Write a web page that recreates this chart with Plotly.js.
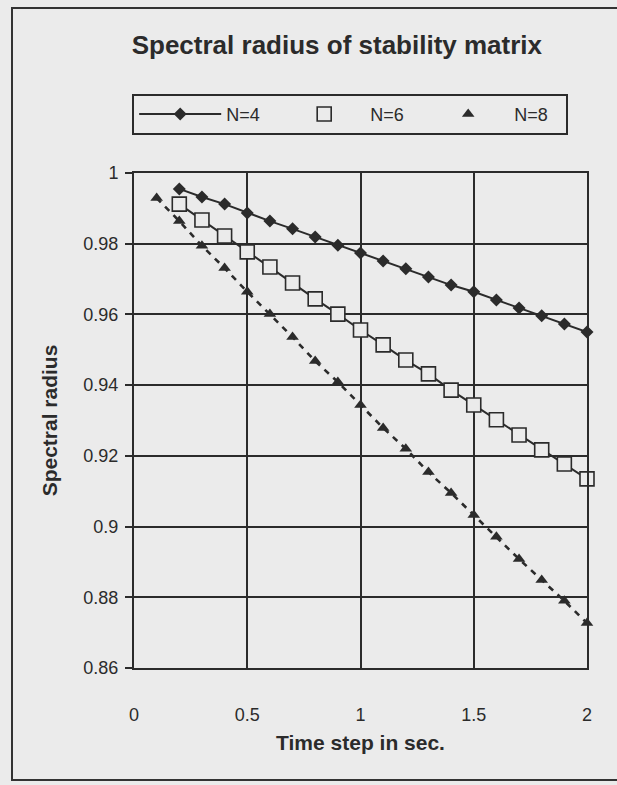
<!DOCTYPE html>
<html>
<head>
<meta charset="utf-8">
<script src="https://cdn.plot.ly/plotly-3.0.1.min.js"></script>
<style>
  html, body { margin: 0; padding: 0; background: #ebebeb; overflow: hidden; }
  #chart { position: absolute; left: 0; top: 0; width: 617px; height: 785px; }
  #frame { position: absolute; left: 11px; top: 7px; width: 1200px; height: 770px;
           border: 2px solid #333; border-right: none; pointer-events: none; }
</style>
</head>
<body>
<div id="chart"></div>
<div id="frame"></div>
<script>
// Time step (s)
const timeN4 = [0.2,0.3,0.4,0.5,0.6,0.7,0.8,0.9,1.0,1.1,1.2,1.3,1.4,1.5,1.6,1.7,1.8,1.9,2.0];
const timeN6 = [0.2,0.3,0.4,0.5,0.6,0.7,0.8,0.9,1.0,1.1,1.2,1.3,1.4,1.5,1.6,1.7,1.8,1.9,2.0];
const timeN8 = [0.1,0.2,0.3,0.4,0.5,0.6,0.7,0.8,0.9,1.0,1.1,1.2,1.3,1.4,1.5,1.6,1.7,1.8,1.9,2.0];

// Spectral radius values
const radiusN4 = [0.9955,0.9932,0.9912,0.9887,0.9864,0.9842,0.9819,0.9796,0.9774,0.9751,0.9729,0.9706,0.9683,0.9664,0.9641,0.9618,0.9596,0.9573,0.9550];
const radiusN6 = [0.9912,0.9867,0.9822,0.9777,0.9734,0.9689,0.9644,0.9601,0.9556,0.9514,0.9471,0.9432,0.9386,0.9344,0.9302,0.9259,0.9217,0.9177,0.9135];
const radiusN8 = [0.9929,0.9864,0.9794,0.9731,0.9664,0.9601,0.9536,0.9468,0.9409,0.9344,0.9279,0.9220,0.9154,0.9095,0.9033,0.8971,0.8908,0.8849,0.8790,0.8727];

const seriesNames = ['N=4', 'N=6', 'N=8'];

const ink = '#2b2b2b';
const bg = '#ebebeb';
const fontFam = '"Liberation Sans", Arial, Helvetica, sans-serif';

const traces = [
  { x: timeN4, y: radiusN4, name: seriesNames[0], mode: 'lines+markers', cliponaxis: false,
    line: { color: ink, width: 2 },
    marker: { symbol: 'diamond', size: 10, color: ink } },
  { x: timeN6, y: radiusN6, name: seriesNames[1], mode: 'lines', showlegend: false,
    line: { color: ink, width: 2 } },
  { x: timeN6, y: radiusN6, name: seriesNames[1], mode: 'markers', cliponaxis: false,
    marker: { symbol: 'square', size: 14, color: bg, line: { color: ink, width: 1.6 } } },
  { x: timeN8, y: radiusN8, name: seriesNames[2], mode: 'lines', showlegend: false,
    line: { color: ink, width: 2.6, dash: '6px,6px' } },
  { x: timeN8, y: radiusN8, name: seriesNames[2], mode: 'markers', cliponaxis: false,
    marker: { symbol: 'triangle-up', size: 11, color: ink } }
];

const layout = {
  width: 617, height: 785,
  margin: { l: 134, r: 30, t: 173, b: 117 },
  paper_bgcolor: bg, plot_bgcolor: bg,
  font: { family: fontFam, color: ink, size: 18 },
  title: {
    text: 'Spectral radius of stability matrix',
    font: { size: 26, weight: 'bold', color: ink },
    x: 0.546, xref: 'container', xanchor: 'center',
    y: 0.943, yref: 'container', yanchor: 'middle'
  },
  showlegend: true,
  legend: {
    orientation: 'h', x: -0.004, xanchor: 'left', y: 1.16, yanchor: 'top',
    bgcolor: 'rgba(0,0,0,0)', bordercolor: ink, borderwidth: 2,
    font: { size: 18, color: ink },
    itemwidth: 82, entrywidth: 47, entrywidthmode: 'pixels',
    traceorder: 'normal'
  },
  xaxis: {
    range: [0, 2], dtick: 0.5, tick0: 0,
    showgrid: true, gridcolor: ink, gridwidth: 2,
    showline: true, linecolor: ink, linewidth: 2, mirror: true,
    zeroline: false, ticks: '', ticklabelstandoff: 29,
    tickfont: { size: 18, color: ink },
    title: { text: 'Time step in sec.', font: { size: 21, weight: 'bold', color: ink }, standoff: 12 },
    automargin: false
  },
  yaxis: {
    range: [0.86, 1], dtick: 0.02, tick0: 0.86,
    showgrid: true, gridcolor: ink, gridwidth: 2,
    showline: true, linecolor: ink, linewidth: 2, mirror: true,
    zeroline: false, ticks: 'outside', ticklen: 7, tickwidth: 2, tickcolor: ink,
    ticklabelstandoff: 3,
    tickfont: { size: 18, color: ink },
    title: { text: 'Spectral radius', font: { size: 21, weight: 'bold', color: ink }, standoff: 20 },
    automargin: false
  }
};

Plotly.newPlot('chart', traces, layout, { staticPlot: true, displayModeBar: false });
</script>
</body>
</html>
